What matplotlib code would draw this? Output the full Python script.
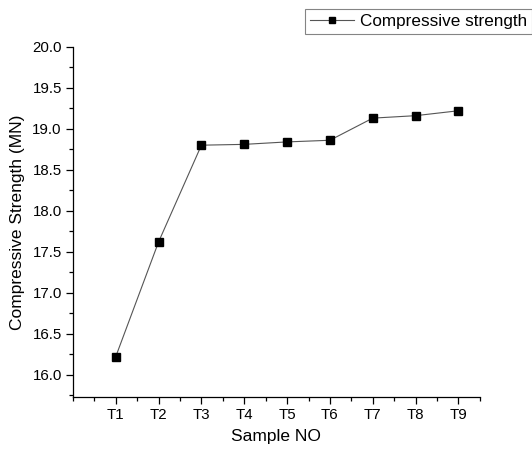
import matplotlib
matplotlib.use("Agg")
import matplotlib.pyplot as plt
from matplotlib.ticker import MultipleLocator

plt.rcParams['font.family'] = ['Liberation Sans', 'DejaVu Sans']

samples = ["T1", "T2", "T3", "T4", "T5", "T6", "T7", "T8", "T9"]
strength = [16.22, 17.62, 18.80, 18.81, 18.84, 18.86, 19.13, 19.16, 19.22]

fig = plt.figure(figsize=(5.32, 4.5), dpi=100)
ax = fig.add_axes([0.137, 0.118, 0.765, 0.778])

x = list(range(1, len(samples) + 1))
line, = ax.plot(x, strength, color="#555555", linewidth=0.8, marker="s",
                markersize=5.5, markerfacecolor="black", markeredgecolor="black",
                label="Compressive strength")

ax.set_xlim(0, 9.5)
ax.set_ylim(15.73, 20.0)
ax.set_xticks(x)
ax.set_xticklabels(samples)
ax.xaxis.set_minor_locator(MultipleLocator(0.5))
ax.yaxis.set_major_locator(MultipleLocator(0.5))
ax.yaxis.set_minor_locator(MultipleLocator(0.25))
ax.yaxis.set_major_formatter(matplotlib.ticker.FormatStrFormatter("%.1f"))

for s in ["top", "right"]:
    ax.spines[s].set_visible(False)
for s in ["left", "bottom"]:
    ax.spines[s].set_linewidth(0.9)

ax.tick_params(which="major", direction="out", length=5, width=0.9, labelsize=10.8, pad=3)
ax.tick_params(which="minor", direction="out", length=3, width=0.9)

ax.set_xlabel("Sample NO", fontsize=12.5, labelpad=5)
ax.set_ylabel("Compressive Strength (MN)", fontsize=12.5, labelpad=5)

leg = fig.legend(handles=[line], loc="upper right", bbox_to_anchor=(1.006, 0.988),
                 fontsize=12.3, frameon=True, fancybox=False, edgecolor="#666666",
                 borderpad=0.3, handlelength=2.6, handletextpad=0.3, markerscale=0.8,
                 borderaxespad=0.2)
leg.get_frame().set_linewidth(0.8)

fig.savefig("out.png", dpi=100)
